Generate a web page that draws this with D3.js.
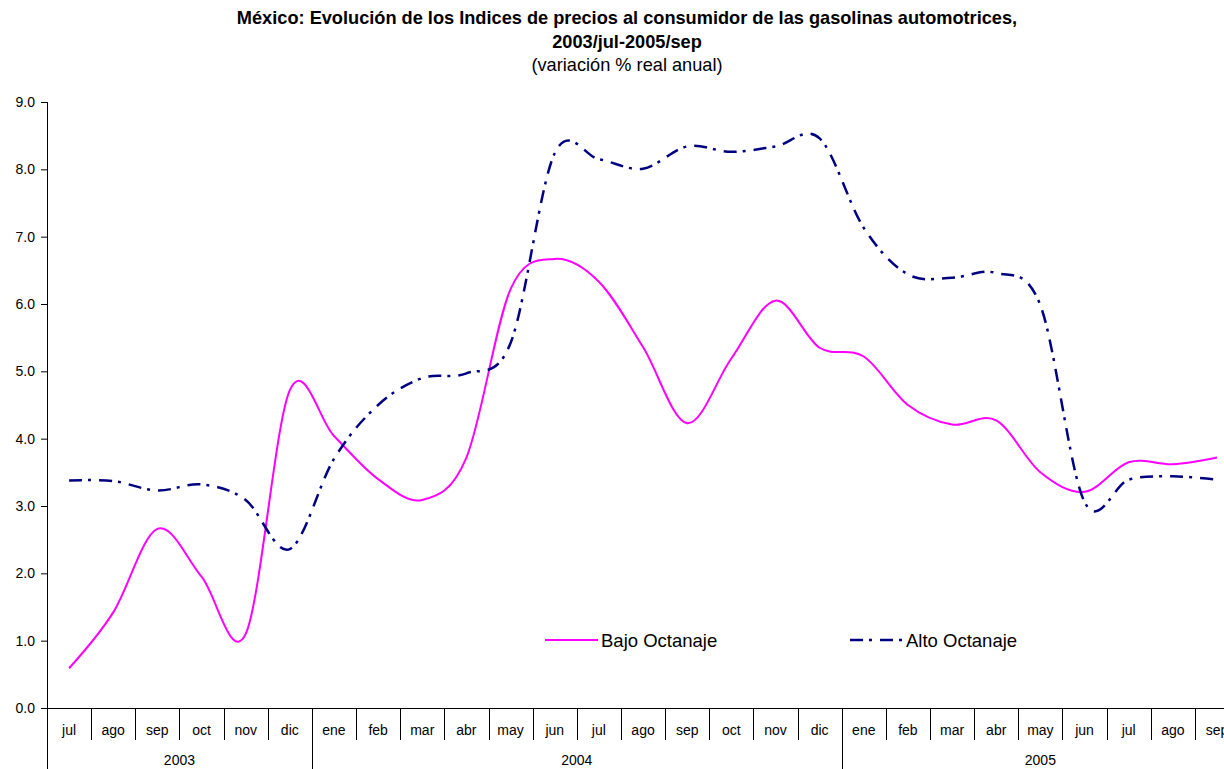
<!DOCTYPE html>
<html>
<head>
<meta charset="utf-8">
<script src="https://cdn.jsdelivr.net/npm/d3@7"></script>
<style>
  body { margin: 0; background: #fff; }
  svg { display: block; }
</style>
</head>
<body>
<svg id="chart" width="1224" height="769"></svg>
<script>
//Chart data
var months = ["jul","ago","sep","oct","nov","dic",
              "ene","feb","mar","abr","may","jun","jul","ago","sep","oct","nov","dic",
              "ene","feb","mar","abr","may","jun","jul","ago","sep"];
var yearLabels = ["2003", "2004", "2005"];
var yearSpans = [6, 12, 9];
var yTicks = [0, 1, 2, 3, 4, 5, 6, 7, 8, 9];
var bajo = [0.59, 1.42, 2.66, 1.95, 1.10, 4.72,
            4.04, 3.40, 3.09, 3.72, 6.22, 6.67, 6.33, 5.36, 4.23, 5.19, 6.05, 5.35,
            5.22, 4.50, 4.21, 4.27, 3.50, 3.21, 3.65, 3.62, 3.72];
var alto = [3.38, 3.37, 3.23, 3.32, 3.09, 2.36,
            3.70, 4.50, 4.90, 4.97, 5.42, 8.24, 8.15, 8.01, 8.34, 8.26, 8.34, 8.46,
            7.13, 6.44, 6.39, 6.46, 5.98, 3.06, 3.39, 3.44, 3.39];
var seriesNames = ["Bajo Octanaje", "Alto Octanaje"];

var svg = d3.select("#chart");
var font = "Arial, 'Liberation Sans', sans-serif";

//Plot area
var plotLeft = 47, plotTop = 102, plotBottom = 708, step = 44.15;

var x = d3.scaleBand()
    .domain(d3.range(months.length))
    .range([plotLeft, plotLeft + step * months.length]);
var y = d3.scaleLinear()
    .domain([0, 9])
    .range([plotBottom, plotTop]);

//Title
var title = svg.append("text")
  .attr("text-anchor", "middle")
  .style("font-family", font)
  .style("fill", "#000");
title.append("tspan").attr("x", 627).attr("y", 24)
  .style("font-size", "18.2px").style("font-weight", "bold")
  .text("México: Evolución de los Indices de precios al consumidor de las gasolinas automotrices,");
title.append("tspan").attr("x", 627).attr("y", 48)
  .style("font-size", "18.2px").style("font-weight", "bold")
  .text("2003/jul-2005/sep");
title.append("tspan").attr("x", 627).attr("y", 71)
  .style("font-size", "18.2px")
  .text("(variación % real anual)");

//Y axis
var yAxis = svg.append("g")
  .attr("transform", "translate(" + plotLeft + ",0)")
  .call(d3.axisLeft(y).tickValues(yTicks).tickFormat(d3.format(".1f")).tickSize(6).tickSizeOuter(0));
yAxis.select(".domain").remove();
yAxis.selectAll("line").attr("stroke", "#000");
yAxis.selectAll("text")
  .attr("x", -12)
  .style("font-family", font)
  .style("font-size", "14px")
  .style("fill", "#000");
svg.append("line")
  .attr("x1", plotLeft + 0.5).attr("x2", plotLeft + 0.5)
  .attr("y1", plotTop).attr("y2", 769)
  .attr("stroke", "#000");

//X axis: baseline, month separators, year separators
svg.append("line")
  .attr("x1", plotLeft).attr("x2", x.range()[1])
  .attr("y1", plotBottom + 0.5).attr("y2", plotBottom + 0.5)
  .attr("stroke", "#000");

svg.selectAll(".msep")
  .data(d3.range(1, months.length + 1))
  .enter().append("line")
  .attr("x1", function (i) { return Math.round(x.range()[0] + i * x.step()) + 0.5; })
  .attr("x2", function (i) { return Math.round(x.range()[0] + i * x.step()) + 0.5; })
  .attr("y1", plotBottom).attr("y2", plotBottom + 32)
  .attr("stroke", "#000");

svg.selectAll(".mlab")
  .data(months)
  .enter().append("text")
  .attr("x", function (d, i) { return x(i) + x.bandwidth() / 2; })
  .attr("y", 735)
  .attr("text-anchor", "middle")
  .style("font-family", font)
  .style("font-size", "14px")
  .text(function (d) { return d; });

var yearStart = [0];
yearSpans.forEach(function (s, i) { yearStart.push(yearStart[i] + s); });

svg.selectAll(".ysep")
  .data(yearStart.slice(1))
  .enter().append("line")
  .attr("x1", function (i) { return Math.round(x.range()[0] + i * x.step()) + 0.5; })
  .attr("x2", function (i) { return Math.round(x.range()[0] + i * x.step()) + 0.5; })
  .attr("y1", plotBottom).attr("y2", 769)
  .attr("stroke", "#000");

svg.selectAll(".ylab")
  .data(yearLabels)
  .enter().append("text")
  .attr("x", function (d, i) {
    return x.range()[0] + (yearStart[i] + yearSpans[i] / 2) * x.step();
  })
  .attr("y", 765)
  .attr("text-anchor", "middle")
  .style("font-family", font)
  .style("font-size", "14px")
  .text(function (d) { return d; });

//Lines
var line = d3.line()
  .x(function (d, i) { return x(i) + x.bandwidth() / 2; })
  .y(function (d) { return y(d); })
  .curve(d3.curveCardinal.tension(0));

svg.append("path")
  .datum(bajo)
  .attr("d", line)
  .attr("fill", "none")
  .attr("stroke", "#FF00FF")
  .attr("stroke-width", 2);

svg.append("path")
  .datum(alto)
  .attr("d", line)
  .attr("fill", "none")
  .attr("stroke", "#000080")
  .attr("stroke-width", 2.5)
  .attr("stroke-dasharray", "13,6,3,8");

//Legend
var legend = [
  {name: seriesNames[0], x: 545, color: "#FF00FF", width: 2, dash: null},
  {name: seriesNames[1], x: 850, color: "#000080", width: 2.5, dash: "13,6,3,8"}
];
var lg = svg.selectAll(".legend")
  .data(legend)
  .enter().append("g")
  .attr("transform", function (d) { return "translate(" + d.x + ",640)"; });
lg.append("line")
  .attr("x1", 0).attr("x2", 53)
  .attr("y1", 0).attr("y2", 0)
  .attr("stroke", function (d) { return d.color; })
  .attr("stroke-width", function (d) { return d.width; })
  .attr("stroke-dasharray", function (d) { return d.dash; });
lg.append("text")
  .attr("x", 56)
  .attr("y", 6.5)
  .style("font-family", font)
  .style("font-size", "18.5px")
  .text(function (d) { return d.name; });
</script>
</body>
</html>
